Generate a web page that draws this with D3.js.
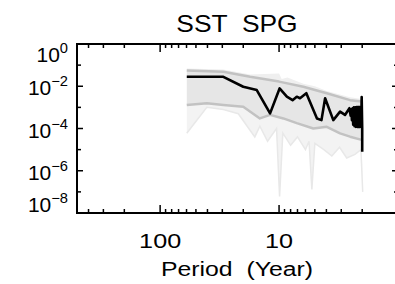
<!DOCTYPE html>
<html><head><meta charset="utf-8">
<script src="https://cdn.jsdelivr.net/npm/d3@7"></script>
<style>body{margin:0;background:#fff}svg{display:block}text{font-family:"Liberation Sans",Arial,sans-serif;fill:#000}</style>
</head><body>
<script>
// Black spectrum line: period (years), power
const blackPeriods = [59.7,29.4,20,15.4,11.9,9.9,8.6,7.7,7.1,6.67,5.9,4.8,4.4,4.1,3.5,3.07,2.79,2.56,2.5,2.47,2.44,2.41,2.38,2.35,2.32,2.29,2.26,2.23,2.2,2.18,2.16,2.14,2.12,2.1,2.08,2.06,2.04,2.02,2.0,2.0];
const blackValues  = [2.8e-2,2.8e-2,9.5e-3,6.6e-3,5.2e-4,7.9e-3,3.2e-3,2.2e-3,3.2e-3,2.7e-3,4.7e-3,3.0e-4,2.5e-4,2.7e-3,2.5e-4,6.3e-4,4.4e-4,9.1e-4,4e-4,8e-4,2.5e-4,9e-4,1.5e-4,1e-3,1.3e-4,1e-3,1.2e-4,1.05e-3,1.2e-4,1.05e-3,1.2e-4,1.05e-3,1.2e-4,1.05e-3,1.2e-4,1.05e-3,1.3e-4,3.1e-3,1e-4,8e-6];
// Upper and lower bounds of grey ensemble band
const upperPeriods = [59.7,29.4,17.5,10,6.25,3.97,2.53,2.02];
const upperValues  = [5.5e-2,4.9e-2,2.8e-2,1.66e-2,9.5e-3,4.7e-3,2.2e-3,1.9e-3];
const lowerPeriods = [59.7,40.5,29.4,20,14.5,11.9,9.2,7.1,5.15,3.97,3.07,2.53,2.02];
const lowerValues  = [1.3e-3,1.55e-3,1.3e-3,1.07e-3,3.0e-4,4.4e-4,3.0e-4,1.8e-4,1.0e-4,1.2e-4,5.9e-5,4.1e-5,2.9e-5];
// Highest and lowest ensemble members envelopes
const maxPeriods = [59.7,29.4,17.5,10,9.5,8.5,6.25,5,3.97,2.53,2.02];
const maxValues  = [7e-2,6.2e-2,3.6e-2,4e-2,2.2e-2,2.6e-2,1.3e-2,1.0e-2,6e-3,3e-3,2.5e-3];
const minPeriods = [59.7,40.5,29.4,22,16,14.5,12.5,10.5,9.9,9.3,8,7,6,5.6,5.3,5.0,4.2,3.6,3.1,2.7,2.3,2.05,1.98];
const minValues  = [6e-5,1e-3,8e-4,5e-4,4e-5,1.3e-4,2.5e-5,1e-4,6e-8,6e-5,1.6e-5,4e-5,1e-5,2.5e-5,1.3e-7,2e-5,1e-5,5e-6,1.3e-5,4e-6,6e-6,1e-5,1e-7];
const yTickExps = [0,-2,-4,-6,-8];
const xMajor = [100,10,1];
const xMinor = [400,300,200,90,80,70,60,50,40,30,20,9,8,7,6,5,4,3,2];
const xLabels = [100,10];
const title = "SST  SPG";
const xLabel = "Period  (Year)";

const W=395,H=284;
const svg=d3.select("body").append("svg").attr("width",W).attr("height",H);
const x=d3.scaleLog().domain([500,1]).range([77,398]);
const y=d3.scaleLog().domain([1e-8,1]).range([213,44]);
const X0=77,X1=398,Y0=44,Y1=213;

const pts=(ps,vs)=>ps.map((p,i)=>[x(p),y(vs[i])]);
const line=d3.line();
const upper=pts(upperPeriods,upperValues), lower=pts(lowerPeriods,lowerValues), mn=pts(minPeriods,minValues), mx=pts(maxPeriods,maxValues);
// light regions outside band
svg.append("path").attr("d",line(lower.concat(mn.slice().reverse()))+"Z").attr("fill","#f3f3f3");
svg.append("path").attr("d",line(mx.concat(upper.slice().reverse()))+"Z").attr("fill","#efefef");
svg.append("path").attr("d",line(mn)).attr("fill","none").attr("stroke","#e8e8e8").attr("stroke-width",1.5);
// band
svg.append("path").attr("d",line(upper.concat(lower.slice().reverse()))+"Z").attr("fill","#e6e6e6");
[upper,lower].forEach(p=>svg.append("path").attr("d",line(p)).attr("fill","none").attr("stroke","#c2c2c2").attr("stroke-width",2.5).attr("stroke-linejoin","round"));
// black line
svg.append("path").attr("d",line(pts(blackPeriods,blackValues))).attr("fill","none").attr("stroke","#000").attr("stroke-width",2.6).attr("stroke-linejoin","round");

// frame
svg.append("rect").attr("x",X0).attr("y",Y0).attr("width",X1-X0).attr("height",Y1-Y0).attr("fill","none").attr("stroke","#000").attr("stroke-width",2);
const tk=svg.append("g").attr("stroke","#000").attr("stroke-width",1.5);
xMajor.concat(xMinor).forEach(v=>{
  const L=xMajor.includes(v)?8:4, xx=x(v);
  tk.append("line").attr("x1",xx).attr("x2",xx).attr("y1",Y1).attr("y2",Y1-L);
  tk.append("line").attr("x1",xx).attr("x2",xx).attr("y1",Y0).attr("y2",Y0+L);
});
d3.range(0,-9,-1).forEach(e=>{
  const L=e%2===0?6:4, yy=y(Math.pow(10,e));
  tk.append("line").attr("x1",X0).attr("x2",X0+L).attr("y1",yy).attr("y2",yy);
  tk.append("line").attr("x1",X1).attr("x2",X1-L).attr("y1",yy).attr("y2",yy);
});
// y labels
yTickExps.forEach(e=>{
  let yy=y(Math.pow(10,e))+9;
  yy=Math.max(Y0+18,Math.min(Y1-1,yy));
  const t=svg.append("text").attr("transform",`translate(68,${yy}) scale(1.05,1)`).attr("text-anchor","end").style("font-size","20px");
  t.append("tspan").text("10");
  t.append("tspan").attr("dy",-9).style("font-size","14px").text(e===0?"0":"\u2212"+(-e));
});
// x labels
const sText=(cx,cy,sx,size,str)=>svg.append("text").attr("transform",`translate(${cx},${cy}) scale(${sx},1)`).attr("text-anchor","middle").style("font-size",size+"px").style("white-space","pre").text(str);
xLabels.forEach(v=>sText(x(v),248,1.2,21,String(v)));
sText(237,276,1.18,21,xLabel);
sText(237,32,1.1,24,title);
</script>
</body></html>
